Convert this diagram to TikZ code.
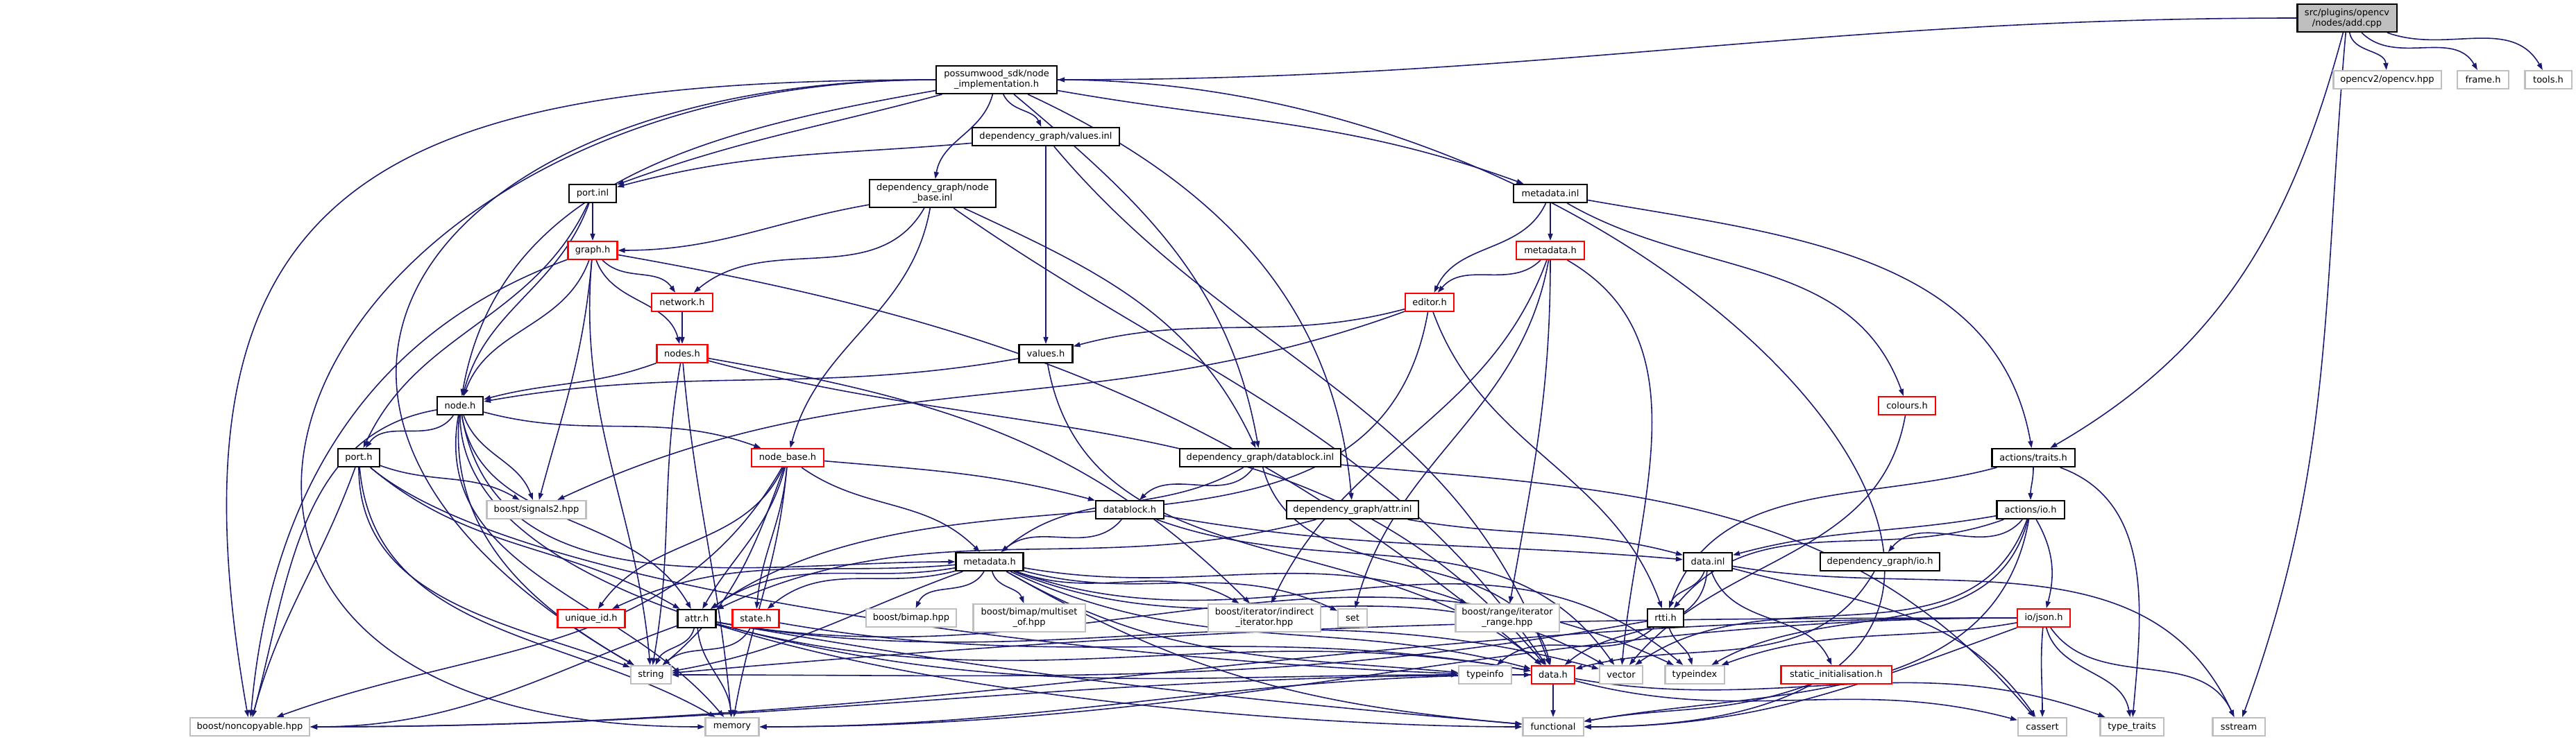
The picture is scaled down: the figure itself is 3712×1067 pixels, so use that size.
\documentclass[tikz,border=0pt]{standalone}
\usepackage{fontspec}
\setmainfont{DejaVu Sans}
\usetikzlibrary{arrows.meta,backgrounds}
\definecolor{edgeblue}{HTML}{191970}
\definecolor{truncred}{HTML}{FF0000}
\definecolor{extgray}{HTML}{BFBFBF}
\begin{document}
\begin{tikzpicture}[
  x=0.01cm, y=-0.01cm,
  file/.style={draw, line width=0.6pt, fill=white, minimum height=0.26cm, inner sep=0, align=center, font=\fontsize{3.7}{4.27}\selectfont},
  docfile/.style={file, draw=black},
  redfile/.style={file, draw=truncred},
  extfile/.style={file, draw=extgray},
  srcfile/.style={file, draw=black, fill=extgray},
  tall/.style={minimum height=0.40cm},
  edge/.style={draw=edgeblue, line width=0.45pt, -{Triangle[length=1mm, width=0.7mm]}}
]
\useasboundingbox (0,0) rectangle (3712,1067);

% top rows
\node[srcfile, tall, minimum width=1.43cm] (add) at (3382,26) {src/plugins/opencv\\/nodes/add.cpp};
\node[docfile, tall, minimum width=1.74cm] (impl) at (1436,115) {possumwood\_sdk/node\\\_implementation.h};
\node[extfile, minimum width=1.55cm] (opencv) at (3440,115) {opencv2/opencv.hpp};
\node[extfile, minimum width=0.74cm] (frame) at (3578,115) {frame.h};
\node[extfile, minimum width=0.67cm] (tools) at (3672,115) {tools.h};
\node[docfile, minimum width=2.12cm] (valinl) at (1507,197) {dependency\_graph/values.inl};
\node[docfile, minimum width=0.68cm] (portinl) at (854,279) {port.inl};
\node[docfile, tall, minimum width=1.82cm] (nbinl) at (1344,279) {dependency\_graph/node\\\_base.inl};
\node[docfile, minimum width=1.06cm] (mdinl) at (2234,279) {metadata.inl};
\node[redfile, minimum width=0.71cm] (graph) at (854,361) {graph.h};
\node[redfile, minimum width=0.98cm] (mdred) at (2234,361) {metadata.h};
\node[redfile, minimum width=0.88cm] (network) at (983,436) {network.h};
\node[redfile, minimum width=0.70cm] (editor) at (2060,436) {editor.h};
\node[redfile, minimum width=0.73cm] (nodes) at (983,510) {nodes.h};
\node[docfile, minimum width=0.77cm] (valh) at (1507,510) {values.h};
\node[docfile, minimum width=0.66cm] (nodeh) at (663,585) {node.h};
\node[redfile, minimum width=0.82cm] (colours) at (2748,585) {colours.h};

% middle rows
\node[docfile, minimum width=0.60cm] (porth) at (517,660) {port.h};
\node[redfile, minimum width=1.04cm] (nbh) at (1135,660) {node\_base.h};
\node[docfile, minimum width=2.32cm] (dbinl) at (1816,660) {dependency\_graph/datablock.inl};
\node[docfile, minimum width=1.19cm] (traits) at (2930,660) {actions/traits.h};
\node[extfile, minimum width=1.43cm] (sig) at (773,735) {boost/signals2.hpp};
\node[docfile, minimum width=0.98cm] (dbh) at (1628,735) {datablock.h};
\node[docfile, minimum width=1.90cm] (attrinl) at (1949,735) {dependency\_graph/attr.inl};
\node[docfile, minimum width=0.97cm] (io) at (2926,735) {actions/io.h};
\node[docfile, minimum width=0.97cm] (md) at (1426,810) {metadata.h};
\node[docfile, minimum width=0.70cm] (datainl) at (2461,810) {data.inl};
\node[docfile, minimum width=1.72cm] (dgio) at (2709,810) {dependency\_graph/io.h};

% lower rows
\node[redfile, minimum width=0.97cm] (uid) at (852,892) {unique\_id.h};
\node[docfile, minimum width=0.55cm] (attr) at (1004,892) {attr.h};
\node[redfile, minimum width=0.67cm] (state) at (1089,892) {state.h};
\node[extfile, minimum width=1.30cm] (bimap) at (1313,891) {boost/bimap.hpp};
\node[extfile, tall, minimum width=1.61cm] (multiset) at (1483,891) {boost/bimap/multiset\\\_of.hpp};
\node[extfile, tall, minimum width=1.62cm] (indirect) at (1822,891) {boost/iterator/indirect\\\_iterator.hpp};
\node[extfile, minimum width=0.42cm] (set) at (1949,891) {set};
\node[extfile, tall, minimum width=1.49cm] (range) at (2172,891) {boost/range/iterator\\\_range.hpp};
\node[docfile, minimum width=0.52cm] (rtti) at (2400,891) {rtti.h};
\node[redfile, minimum width=0.76cm] (json) at (2945,891) {io/json.h};
\node[extfile, minimum width=0.58cm] (string) at (938,973) {string};
\node[extfile, minimum width=0.76cm] (typeinfo) at (2140,973) {typeinfo};
\node[redfile, minimum width=0.62cm] (datah) at (2238,973) {data.h};
\node[extfile, minimum width=0.62cm] (vector) at (2336,973) {vector};
\node[extfile, minimum width=0.85cm] (typeindex) at (2442,973) {typeindex};
\node[redfile, minimum width=1.59cm] (static) at (2646,973) {static\_initialisation.h};
\node[extfile, minimum width=1.72cm] (noncopy) at (360,1048) {boost/noncopyable.hpp};
\node[extfile, minimum width=0.77cm] (memory) at (1055,1048) {memory};
\node[extfile, minimum width=0.87cm] (functional) at (2238,1048) {functional};
\node[extfile, minimum width=0.70cm] (cassert) at (2943,1048) {cassert};
\node[extfile, minimum width=0.91cm] (typetraits) at (3072,1048) {type\_traits};
\node[extfile, minimum width=0.75cm] (sstream) at (3226,1048) {sstream};

% include edges: source/target/out/in, kept behind the boxes
\begin{pgfonlayer}{background}
\foreach \s/\t/\o/\i in {
  add/impl/180/0, add/opencv/-80/95, add/frame/-45/120, add/tools/-20/120, add/traits/-105/30, add/sstream/-95/70,
  impl/nodeh/190/80, impl/portinl/195/20, impl/valinl/-65/115,
  impl/nbinl/-105/80, impl/dbinl/-40/100, impl/attrinl/-25/95, impl/mdinl/-10/160,
  valinl/portinl/185/15, valinl/valh/-90/90, valinl/datah/-50/110,
  nbinl/graph/190/0, nbinl/network/-120/40, nbinl/nbh/-100/75, nbinl/dbinl/-25/115, nbinl/datah/-35/125,
  portinl/graph/-90/90, portinl/nodeh/-110/75, portinl/porth/-115/65,
  graph/network/-45/125, graph/nodes/-70/105, graph/nodeh/-110/70, graph/noncopy/200/85, graph/sig/-95/75,
  graph/string/-95/95, graph/datah/-10/140,
  network/nodes/-90/90,
  nodes/nodeh/200/15, nodes/string/-100/80, nodes/memory/-85/95, nodes/indirect/-10/135, nodes/datah/-15/130,
  valh/nodeh/190/10, valh/datah/-80/140,
  editor/valh/195/15, editor/sig/200/25, editor/attr/-100/35, editor/rtti/-70/110,
  mdinl/mdred/-90/90, mdinl/editor/-115/65, mdinl/colours/-30/110, mdinl/traits/-10/100,
  mdred/editor/-135/50, mdred/indirect/-110/65, mdred/set/-100/75, mdred/range/-90/80, mdred/vector/-30/85,
  colours/vector/-100/50,
  traits/io/-90/90, traits/rtti/195/70, traits/typetraits/-20/85,
  io/datainl/190/15, io/rtti/200/50, io/dgio/-130/50, io/json/-60/75, io/typeindex/-105/30, io/vector/-110/35,
  io/functional/-100/10,
  dgio/datah/-120/15,
  datainl/rtti/-110/70, datainl/datah/-95/40, datainl/static/-70/115, datainl/cassert/-15/125, datainl/sstream/-10/115,
  rtti/string/190/0, rtti/typeinfo/-140/40, rtti/typeindex/-70/105,
  json/string/180/5, json/typeindex/190/20, json/memory/180/0, json/noncopy/180/0, json/functional/200/0,
  json/cassert/-95/90, json/typetraits/-75/100, json/sstream/-55/115,
  static/functional/200/10,
  datah/functional/-90/90, datah/noncopy/180/0, datah/memory/180/0, datah/cassert/-15/165, datah/typetraits/-10/160,
  nodeh/porth/-125/55, nodeh/nbh/-15/160, nodeh/sig/-70/110, nodeh/noncopy/190/75, nodeh/string/-95/150,
  nodeh/memory/-100/130, nodeh/attr/-80/120, nodeh/md/-80/180,
  porth/sig/-20/150, porth/noncopy/-110/75, porth/attr/-40/150, porth/string/-90/160, porth/memory/-85/150,
  nbh/uid/-115/55, nbh/state/-95/85, nbh/md/-35/135, nbh/dbh/-5/165, nbh/attr/-105/60, nbh/string/-110/40,
  nbh/memory/-95/80, nbh/noncopy/-120/20,
  dbinl/dbh/-125/45, dbinl/md/-150/40, dbinl/datah/-75/105, dbinl/cassert/-5/130,
  dbh/md/-130/40, dbh/datainl/-10/175, dbh/vector/-20/125,
  attrinl/datainl/-10/165, attrinl/attr/195/25,
  md/uid/185/25, md/attr/190/35, md/state/195/40, md/string/200/10, md/bimap/-120/65, md/multiset/-75/110,
  md/indirect/-20/150, md/set/-15/155, md/range/-10/160, md/typeinfo/-30/175, md/datah/-25/165,
  md/vector/-22/150, md/typeindex/-20/140, md/functional/-30/175,
  attr/string/-105/65, attr/noncopy/200/0, attr/memory/-85/95, attr/datah/-15/170, attr/typeinfo/-15/180,
  attr/vector/-10/165, attr/typeindex/-10/155, attr/functional/-10/175,
  state/string/-120/40, state/datah/-10/170}
  \draw[edge] (\s) to[out=\o, in=\i] (\t);
\draw[edge] (impl) to[out=180, in=100, looseness=1.5] (noncopy);
\draw[edge] (impl) to[out=180, in=180, looseness=2.5] (memory);
\draw[edge] (impl) to[out=180, in=150, looseness=2] (string);
\draw[edge] (impl) to[out=0, in=0, looseness=2] (functional);
\draw[edge] (nodeh) to[out=-90, in=180, looseness=0.6] (functional);
\draw[edge] (porth) to[out=-40, in=180, looseness=0.5] (datah);
\end{pgfonlayer}
\end{tikzpicture}
\end{document}
